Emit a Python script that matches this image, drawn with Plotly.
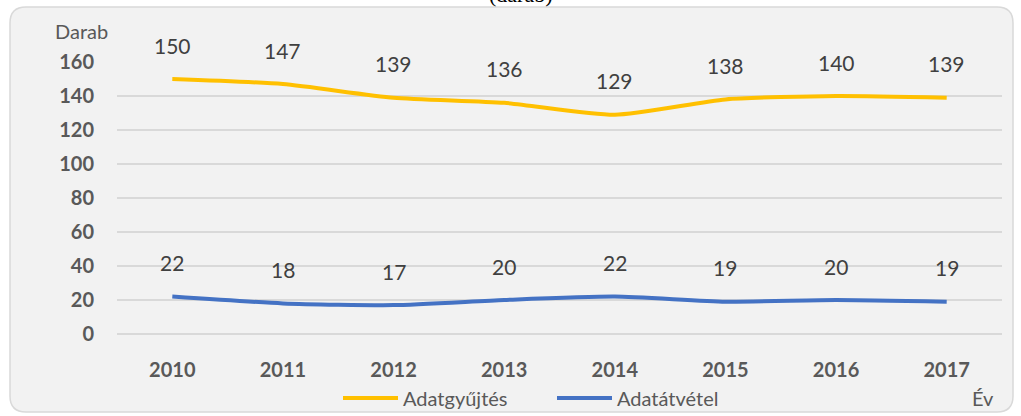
import plotly.graph_objects as go

years = ["2010", "2011", "2012", "2013", "2014", "2015", "2016", "2017"]
adatgyujtes = [150, 147, 139, 136, 129, 138, 140, 139]
adatatvetel = [22, 18, 17, 20, 22, 19, 20, 19]
y_ticks = [0, 20, 40, 60, 80, 100, 120, 140, 160]

W, H = 1021, 416
L, R, T, B = 117, 19, 62, 82
pw, ph = W - L - R, H - T - B

def px(x):
    return (x - L) / pw

def py(y):
    return (H - B - y) / ph

FONT = "Lato, Open Sans, sans-serif"

fig = go.Figure()
fig.add_trace(go.Scatter(x=years, y=adatgyujtes, name="Adatgyűjtés", mode="lines",
                         line=dict(color="#FFC000", width=4, shape="spline", smoothing=0.6)))
fig.add_trace(go.Scatter(x=years, y=adatatvetel, name="Adatátvétel", mode="lines",
                         line=dict(color="#4472C4", width=4, shape="spline", smoothing=0.6)))

for series in (adatgyujtes, adatatvetel):
    for i, v in enumerate(series):
        fig.add_annotation(x=i, y=v, xref="x", yref="y", text=str(v), showarrow=False, yshift=34,
                           font=dict(family=FONT, size=21, color="#404040"))

# rounded panel
x0, x1, y0, y1 = px(10), px(1013), py(412), py(7)
rx, ry = 16 / pw, 16 / ph
path = (f"M {x0+rx},{y1} L {x1-rx},{y1} Q {x1},{y1} {x1},{y1-ry} "
        f"L {x1},{y0+ry} Q {x1},{y0} {x1-rx},{y0} L {x0+rx},{y0} "
        f"Q {x0},{y0} {x0},{y0+ry} L {x0},{y1-ry} Q {x0},{y1} {x0+rx},{y1} Z")
fig.add_shape(type="path", xref="paper", yref="paper", path=path,
              fillcolor="#F2F2F2", line=dict(color="#D9D9D9", width=1.5), layer="below")

fig.add_annotation(xref="paper", yref="paper", x=px(81), y=py(31), text="Darab",
                   xanchor="center", yanchor="middle",
                   showarrow=False, font=dict(family=FONT, size=20, color="#595959"))
fig.add_annotation(xref="paper", yref="paper", x=px(983), y=py(398), text="Év",
                   xanchor="center", yanchor="middle",
                   showarrow=False, font=dict(family=FONT, size=20, color="#595959"))
fig.add_annotation(xref="paper", yref="paper", x=px(521), y=py(-6), text="(darab)",
                   xanchor="center", yanchor="middle",
                   showarrow=False, font=dict(family="Liberation Serif, serif", size=22, color="#000000"))

fig.update_layout(
    width=W, height=H,
    margin=dict(l=L, r=R, t=T, b=B, autoexpand=False),
    paper_bgcolor="white", plot_bgcolor="rgba(0,0,0,0)",
    showlegend=True,
    legend=dict(orientation="h", x=px(338), xanchor="left", y=py(398), yanchor="middle",
                font=dict(family=FONT, size=20, color="#595959"), bgcolor="rgba(0,0,0,0)",
                itemwidth=55, entrywidth=144, entrywidthmode="pixels", tracegroupgap=0),
    xaxis=dict(type="category", showgrid=False, zeroline=False, showline=False,
               ticks="", tickfont=dict(family=FONT, size=20, color="#595959", weight="bold"),
               ticklabelstandoff=22, range=[-0.5, 7.5]),
    yaxis=dict(range=[0, 160], tickvals=y_ticks, showgrid=True, gridcolor="#D9D9D9", gridwidth=1.5,
               zeroline=True, zerolinecolor="#D9D9D9", zerolinewidth=1.5, showline=False, ticks="",
               tickfont=dict(family=FONT, size=20, color="#595959", weight="bold"),
               ticklabelstandoff=22),
)

fig.write_html("out.html", config={"displayModeBar": False},
               post_script="document.body.style.margin='0';document.body.style.overflow='hidden';")
